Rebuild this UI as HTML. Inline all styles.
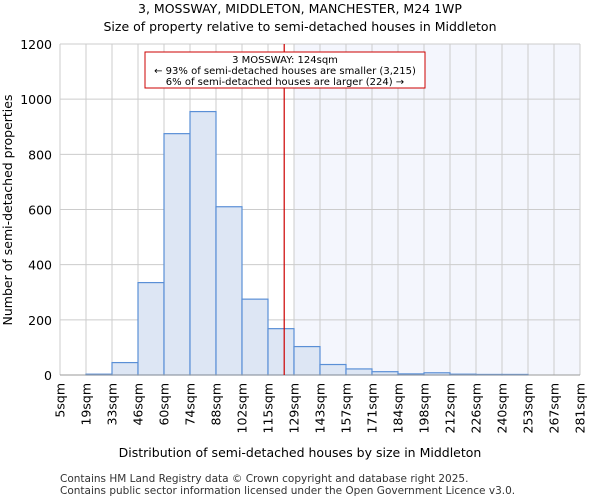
<!DOCTYPE html>
<html><head><meta charset="utf-8"><style>
body{margin:0;background:#fff;font-family:"DejaVu Sans","Liberation Sans",sans-serif}
</style></head><body>
<svg width="600" height="500" xmlns="http://www.w3.org/2000/svg" font-family="DejaVu Sans, Liberation Sans, sans-serif">
<text x="300" y="13" text-anchor="middle" font-size="12.5">3, MOSSWAY, MIDDLETON, MANCHESTER, M24 1WP</text>
<text x="300" y="31" text-anchor="middle" font-size="12.5">Size of property relative to semi-detached houses in Middleton</text>
<g id="plot"></g>
<text x="300" y="457" text-anchor="middle" font-size="12.5">Distribution of semi-detached houses by size in Middleton</text>
<text transform="translate(12,210) rotate(-90)" text-anchor="middle" font-size="12.5">Number of semi-detached properties</text>
<text x="60" y="482" font-size="10.5" fill="#333">Contains HM Land Registry data © Crown copyright and database right 2025.</text>
<text x="60" y="494" font-size="10.5" fill="#333">Contains public sector information licensed under the Open Government Licence v3.0.</text>
</svg>
<script>
const tickLabels=["5sqm","19sqm","33sqm","46sqm","60sqm","74sqm","88sqm","102sqm","115sqm","129sqm","143sqm","157sqm","171sqm","184sqm","198sqm","212sqm","226sqm","240sqm","253sqm","267sqm","281sqm"];
const counts=[0,3,45,335,875,955,610,275,168,103,38,22,12,4,8,3,2,2,0,0];
const yTicks=[0,200,400,600,800,1000,1200];
const propertySize=124;
const binStart=5, binWidth=13.8;
const NS="http://www.w3.org/2000/svg";
const g=document.getElementById('plot');
const L=60,R=580,T=44,B=375,n=counts.length,bw=(R-L)/n;
const x=i=>L+i*bw;
const y=v=>B-(v/1200)*(B-T);
const xv=s=>L+(s-binStart)/binWidth*bw;
function el(t,a){const e=document.createElementNS(NS,t);for(const k in a)e.setAttribute(k,a[k]);g.appendChild(e);return e;}
const px=xv(propertySize);
const shadeStart=x(Math.ceil((propertySize-binStart)/binWidth));
let e=el('rect',{x:shadeStart,y:T,width:R-shadeStart,height:B-T,fill:'#f4f6fd'});

for(const t of yTicks){e=el('line',{x1:L,x2:R,y1:y(t),y2:y(t),stroke:'#ccc','stroke-width':1});

e=el('text',{x:L-8,y:y(t)+5,'text-anchor':'end','font-size':12.5});e.textContent=t;
}
for(let i=0;i<tickLabels.length;i++){e=el('line',{x1:x(i),x2:x(i),y1:T,y2:B,stroke:'#ccc','stroke-width':1});

e=el('text',{transform:`translate(${x(i)+4.5},${B+8}) rotate(-90)`,'text-anchor':'end','font-size':12.5});e.textContent=tickLabels[i];
}
counts.forEach((c,i)=>{if(c<=0)return;e=el('rect',{x:x(i),y:y(c),width:bw,height:B-y(c),fill:'#dde6f4',stroke:'#5a8fd6','stroke-width':1.2});
});
e=el('line',{x1:L,x2:R,y1:B,y2:B,stroke:'#999'});
e=el('line',{x1:px,x2:px,y1:T,y2:B,stroke:'#cc0000','stroke-width':1.2});
e=el('rect',{x:145,y:52,width:280,height:36,fill:'#fff',stroke:'#cc0000','stroke-width':1});
const lines=["3 MOSSWAY: 124sqm","← 93% of semi-detached houses are smaller (3,215)","6% of semi-detached houses are larger (224) →"];
lines.forEach((s,k)=>{e=el('text',{x:285,y:63+k*11,'text-anchor':'middle','font-size':10});e.textContent=s;
});
</script>
</body></html>
